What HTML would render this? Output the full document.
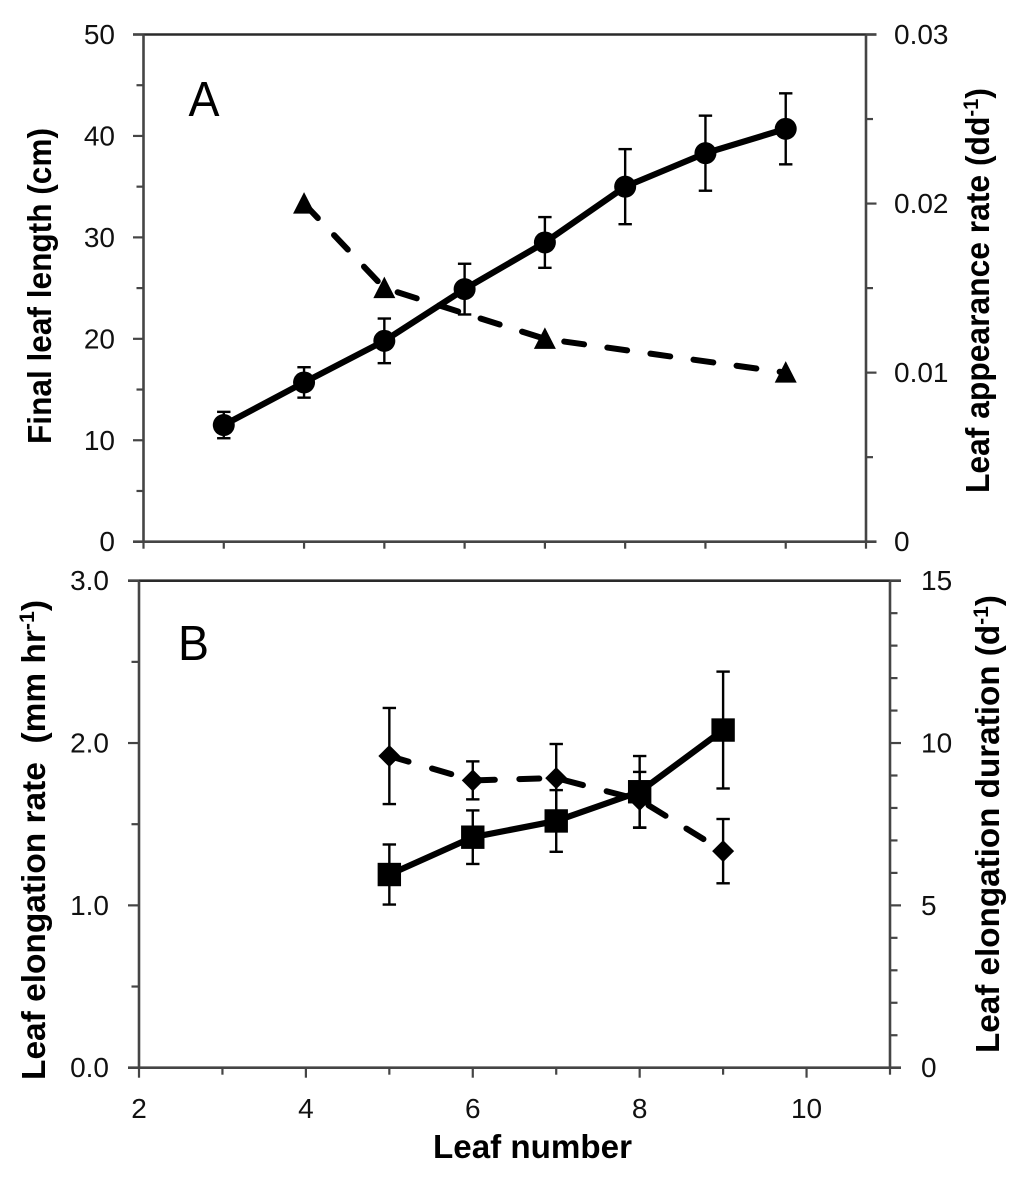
<!DOCTYPE html>
<html lang="en">
<head>
<meta charset="utf-8">
<title>Leaf length, appearance and elongation by leaf number</title>
<style>
html,body{margin:0;padding:0;background:#fff;}
svg{display:block;}
text{font-family:"Liberation Sans",sans-serif;fill:#111;}
.tick{font-size:28px;}
.title{font-size:33px;font-weight:bold;fill:#000;}
.panel{font-size:49px;fill:#000;}
</style>
</head>
<body>
<svg id="chart" xmlns="http://www.w3.org/2000/svg" width="1024" height="1190" viewBox="0 0 1024 1190">
  <rect width="1024" height="1190" fill="#fff"/>
  <g id="axes-a"></g>
  <g id="axes-b"></g>
  <g id="marks-a"></g>
  <g id="marks-b"></g>
  <text class="panel" x="188.5" y="116" textLength="31" lengthAdjust="spacingAndGlyphs">A</text>
  <text class="panel" x="178" y="660" textLength="31" lengthAdjust="spacingAndGlyphs">B</text>
  <text class="title" transform="translate(51,444) rotate(-90)" textLength="316" lengthAdjust="spacingAndGlyphs">Final leaf length (cm)</text>
  <text class="title" transform="translate(989,493) rotate(-90)" textLength="405" lengthAdjust="spacingAndGlyphs">Leaf appearance rate (dd<tspan dy="-11" font-size="21">-1</tspan><tspan dy="11">)</tspan></text>
  <text class="title" transform="translate(45,1080) rotate(-90)" textLength="480" lengthAdjust="spacingAndGlyphs" xml:space="preserve">Leaf elongation rate  (mm hr<tspan dy="-11" font-size="21">-1</tspan><tspan dy="11">)</tspan></text>
  <text class="title" transform="translate(999,1053) rotate(-90)" textLength="458" lengthAdjust="spacingAndGlyphs">Leaf elongation duration (d<tspan dy="-11" font-size="21">-1</tspan><tspan dy="11">)</tspan></text>
  <text class="title" x="433" y="1158" textLength="199" lengthAdjust="spacingAndGlyphs">Leaf number</text>
</svg>
<script>
// Panel A data
const leafA = [3, 4, 5, 6, 7, 8, 9, 10];
const finalLength = [11.5, 15.7, 19.8, 24.9, 29.5, 35.0, 38.3, 40.7];
const finalLengthErr = [1.3, 1.5, 2.2, 2.5, 2.5, 3.7, 3.7, 3.5];
const leafAppearance = [4, 5, 7, 10];
const appearanceRate = [0.020, 0.015, 0.012, 0.010];
const leftTicksA = ["0", "10", "20", "30", "40", "50"];
const rightTicksA = ["0", "0.01", "0.02", "0.03"];
// Panel B data
const leafB = [5, 6, 7, 8, 9];
const elongationRate = [1.19, 1.42, 1.52, 1.70, 2.08];
const elongationRateErr = [0.185, 0.165, 0.19, 0.22, 0.36];
const elongationDuration = [9.6, 8.85, 8.92, 8.25, 6.67];
const elongationDurationErr = [1.48, 0.585, 1.05, 0.86, 0.99];
const leftTicksB = ["0.0", "1.0", "2.0", "3.0"];
const rightTicksB = ["0", "5", "10", "15"];
const xTicksB = ["2", "4", "6", "8", "10"];

const NS = "http://www.w3.org/2000/svg";
const AXIS = "#454545";
function mk(parent, tag, attrs) {
  const el = document.createElementNS(NS, tag);
  for (const k in attrs) el.setAttribute(k, attrs[k]);
  parent.appendChild(el);
  return el;
}
function scale(d0, d1, r0, r1) {
  return v => r0 + (v - d0) * (r1 - r0) / (d1 - d0);
}
// Panel scales
const xA = scale(2, 11, 143.5, 866);
const yLA = scale(0, 50, 541.7, 34.5);
const yRA = scale(0, 0.03, 541.7, 34.5);
const xB = scale(2, 11, 139, 890);
const yLB = scale(0, 3, 1067.7, 580.7);
const yRB = scale(0, 15, 1067.7, 580.7);

function axisLine(g, x1, y1, x2, y2, stroke) {
  const el = mk(g, "line", {x1, y1, x2, y2, stroke: stroke || AXIS, "stroke-width": 2.6});
  
  
}
function tickMark(g, x1, y1, x2, y2) {
  const el = mk(g, "line", {x1, y1, x2, y2, stroke: AXIS, "stroke-width": 2.2});
  
  
}
function tickLabel(g, x, y, anchor, str) {
  const el = mk(g, "text", {x, y, "text-anchor": anchor, "class": "tick"});
  el.textContent = str;
  
  
}

function drawAxes(g, x, yL, yR, xL, xR, yLmax, yRmax, leftLabels, rightLabels, opt) {
  const bot = yL(0), top = yL(yLmax);
  axisLine(g, xL - opt.majorLen, top, xR + opt.majorLen, top, "#2a2a2a");
  axisLine(g, xL - opt.majorLen, bot, xR + opt.majorLen, bot);
  axisLine(g, xL, top, xL, bot);
  axisLine(g, xR, top, xR, bot);
  // left ticks: majors at labels, one minor between
  const lStep = yLmax / (leftLabels.length - 1);
  for (let i = 0; i < leftLabels.length; i++) {
    const v = i * lStep;
    tickMark(g, xL - opt.majorLen, yL(v), xL, yL(v));
    tickLabel(g, opt.leftLabelX, yL(v) + 9.5, "end", leftLabels[i]);
    if (i < leftLabels.length - 1) {
      const m = v + lStep / 2;
      tickMark(g, xL - opt.minorLen, yL(m), xL, yL(m));
    }
  }
  // right ticks
  const rStep = yRmax / (rightLabels.length - 1);
  for (let i = 0; i < rightLabels.length; i++) {
    const v = i * rStep;
    tickMark(g, xR, yR(v), xR + opt.majorLen, yR(v));
    tickLabel(g, opt.rightLabelX, yR(v) + 9.5, "start", rightLabels[i]);
    if (i < rightLabels.length - 1) {
      for (let k = 1; k < opt.rightMinor; k++) {
        const m = v + rStep * k / opt.rightMinor;
        tickMark(g, xR, yR(m), xR + opt.minorLen, yR(m));
      }
    }
  }
  // x ticks
  for (let t = 2; t <= 11; t++) {
    const major = opt.xLabels && t % 2 === 0;
    tickMark(g, x(t), bot, x(t), bot + (major || !opt.xLabels ? opt.xTickMajor : opt.xTickMinor));
  }
  if (opt.xLabels) {
    opt.xLabels.forEach((s) => tickLabel(g, x(+s), 1118, "middle", s));
  }
}

const axesA = document.getElementById("axes-a");
const axesB = document.getElementById("axes-b");
const marksA = document.getElementById("marks-a");
const marksB = document.getElementById("marks-b");

drawAxes(axesA, xA, yLA, yRA, 143.5, 866, 50, 0.03, leftTicksA, rightTicksA,
  {majorLen: 10.5, minorLen: 7, rightMinor: 2, leftLabelX: 115, rightLabelX: 894, xTickMajor: 7, xTickMinor: 7, xLabels: null});
drawAxes(axesB, xB, yLB, yRB, 139, 890, 3, 15, leftTicksB, rightTicksB,
  {majorLen: 11, minorLen: 7.5, rightMinor: 5, leftLabelX: 109, rightLabelX: 921, xTickMajor: 10, xTickMinor: 7, xLabels: xTicksB});

function polyline(xs, ys, x, y) {
  return xs.map((v, i) => x(v).toFixed(2) + "," + y(ys[i]).toFixed(2)).join(" ");
}
function errorBars(g, xs, ys, errs, x, y) {
  xs.forEach((v, i) => {
    const px = x(v), hi = y(ys[i] + errs[i]), lo = y(ys[i] - errs[i]);
    const stem = mk(g, "line", {x1: px, y1: hi, x2: px, y2: lo, stroke: "#000", "stroke-width": 2.4});
    
    
    const capTop = mk(g, "line", {x1: px - 6.7, y1: hi, x2: px + 6.7, y2: hi, stroke: "#000", "stroke-width": 2.4});
    
    
    const capBot = mk(g, "line", {x1: px - 6.7, y1: lo, x2: px + 6.7, y2: lo, stroke: "#000", "stroke-width": 2.4});
    
    
  });
}

// Panel A: leaf appearance rate (triangles, dashed)
const lineApp = mk(marksA, "polyline", {points: polyline(leafAppearance, appearanceRate, xA, yRA), fill: "none", stroke: "#000", "stroke-width": 6, "stroke-dasharray": "20 23.5", "stroke-linecap": "round", "stroke-linejoin": "round"});


leafAppearance.forEach((v, i) => {
  const px = xA(v), py = yRA(appearanceRate[i]);
  const t = mk(marksA, "polygon", {points: `${px},${py - 11.5} ${px + 11},${py + 10} ${px - 11},${py + 10}`, fill: "#000"});
  
  
});

// Panel A: final leaf length (circles, solid)
errorBars(marksA, leafA, finalLength, finalLengthErr, xA, yLA);
const lineLen = mk(marksA, "polyline", {points: polyline(leafA, finalLength, xA, yLA), fill: "none", stroke: "#000", "stroke-width": 6.2, "stroke-linejoin": "round"});


leafA.forEach((v, i) => {
  const c = mk(marksA, "circle", {cx: xA(v), cy: yLA(finalLength[i]), r: 11, fill: "#000"});
  
  
});

// Panel B: elongation duration (diamonds, dashed)
errorBars(marksB, leafB, elongationDuration, elongationDurationErr, xB, yRB);
const lineDur = mk(marksB, "polyline", {points: polyline(leafB, elongationDuration, xB, yRB), fill: "none", stroke: "#000", "stroke-width": 6, "stroke-dasharray": "20 24.5", "stroke-linecap": "round", "stroke-linejoin": "round"});


leafB.forEach((v, i) => {
  const px = xB(v), py = yRB(elongationDuration[i]);
  const d = mk(marksB, "polygon", {points: `${px},${py - 11} ${px + 11},${py} ${px},${py + 11} ${px - 11},${py}`, fill: "#000"});
  
  
});

// Panel B: elongation rate (squares, solid)
errorBars(marksB, leafB, elongationRate, elongationRateErr, xB, yLB);
const lineRate = mk(marksB, "polyline", {points: polyline(leafB, elongationRate, xB, yLB), fill: "none", stroke: "#000", "stroke-width": 6.2, "stroke-linejoin": "round"});


leafB.forEach((v, i) => {
  const s = mk(marksB, "rect", {x: xB(v) - 11.7, y: yLB(elongationRate[i]) - 11.7, width: 23.4, height: 23.4, fill: "#000"});
  
  
});
</script>
</body>
</html>
